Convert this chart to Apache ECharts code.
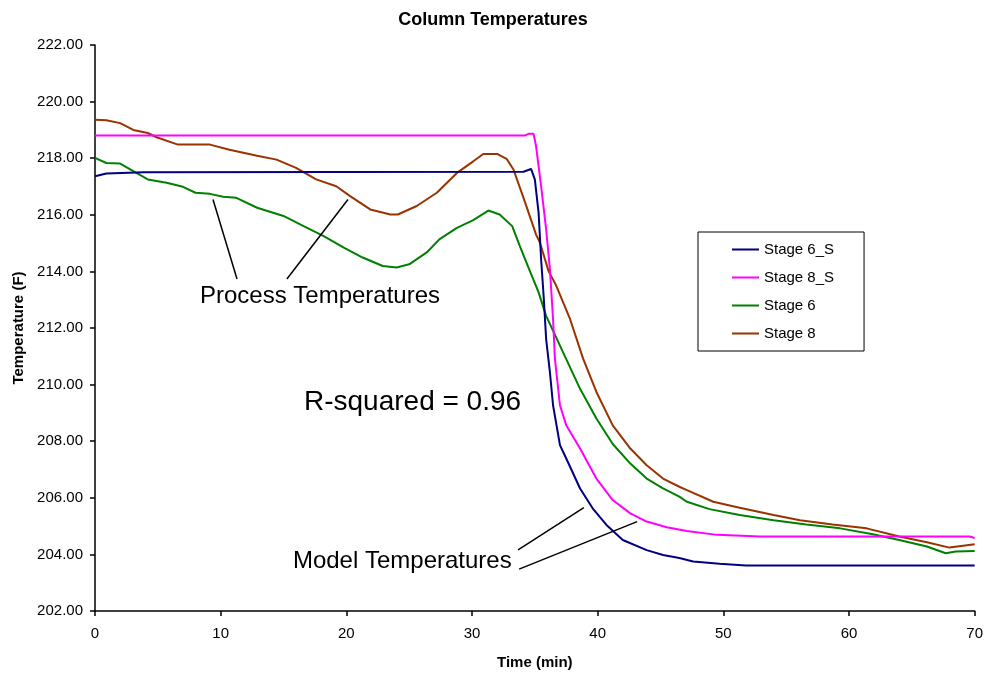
<!DOCTYPE html>
<html>
<head>
<meta charset="utf-8">
<title>Column Temperatures</title>
<script src="https://cdn.jsdelivr.net/npm/echarts@6/dist/echarts.min.js"></script>
<style>
  html, body { margin: 0; padding: 0; background: #fff; }
  #chart { width: 986px; height: 675px; }
</style>
</head>
<body>
<div id="chart"></div>
<script>
// Values, [time (min), temperature (F)]
const stage6S = [
  [0, 217.36], [0.9, 217.46], [3.9, 217.5], [34.1, 217.52], [34.7, 217.62], [35.0, 217.25],
  [35.3, 216.07], [35.5, 214.43], [35.7, 213.14], [35.9, 211.61], [36.2, 210.44], [36.45, 209.27],
  [37.0, 207.86], [37.5, 207.39], [38.6, 206.33], [39.6, 205.63], [40.7, 205.04], [42.0, 204.51],
  [43.9, 204.15], [45.2, 203.98], [46.5, 203.87], [47.6, 203.75], [49.7, 203.67], [51.8, 203.61],
  [70, 203.61]
];
const stage8S = [
  [0, 218.8], [34.2, 218.8], [34.5, 218.86], [34.9, 218.86], [35.1, 218.42], [35.5, 217.01],
  [35.9, 215.49], [36.2, 214.08], [36.45, 212.32], [36.6, 210.91], [37.0, 209.27], [37.5, 208.56],
  [38.6, 207.74], [39.9, 206.68], [41.2, 205.92], [42.6, 205.45], [43.9, 205.16], [45.5, 204.96],
  [47.1, 204.83], [49.5, 204.69], [52.9, 204.63], [69.6, 204.63], [70, 204.58]
];
const stage6 = [
  [0, 218.01], [0.9, 217.83], [2, 217.81], [3.05, 217.54], [4.2, 217.25], [5.7, 217.13],
  [7.0, 216.99], [8.0, 216.78], [9.15, 216.74], [10.2, 216.64], [11.25, 216.6], [12.9, 216.25],
  [15.0, 215.96], [16.6, 215.6], [18.2, 215.25], [19.8, 214.84], [21.3, 214.49], [22.9, 214.19],
  [24.0, 214.14], [25.0, 214.25], [26.4, 214.67], [27.4, 215.13], [28.8, 215.54], [30.1, 215.81],
  [31.3, 216.15], [32.2, 216.01], [33.2, 215.6], [33.8, 214.9], [34.6, 214.02], [35.3, 213.26],
  [35.9, 212.43], [37.25, 211.14], [38.6, 209.85], [39.9, 208.8], [41.2, 207.9], [42.6, 207.21],
  [43.9, 206.68], [45.2, 206.33], [46.5, 206.04], [47.1, 205.86], [48.9, 205.6], [51.3, 205.39],
  [54.0, 205.21], [56.6, 205.06], [59.3, 204.92], [61.9, 204.71], [64.0, 204.51], [66.2, 204.28],
  [67.7, 204.04], [68.5, 204.1], [70, 204.12]
];
const stage8 = [
  [0, 219.36], [0.9, 219.34], [2, 219.24], [3.05, 219.0], [4.2, 218.89], [4.9, 218.74],
  [6.6, 218.48], [9.15, 218.48], [10.7, 218.3], [12.9, 218.09], [14.45, 217.95], [16.0, 217.66],
  [17.6, 217.25], [19.2, 217.01], [20.3, 216.66], [21.9, 216.19], [23.5, 216.01], [24.1, 216.01],
  [25.6, 216.31], [27.2, 216.78], [28.8, 217.48], [30.1, 217.89], [30.9, 218.15], [32.0, 218.15],
  [32.75, 217.98], [33.3, 217.6], [34.1, 216.6], [35.1, 215.3], [35.4, 215.02], [36.1, 214.0],
  [36.7, 213.5], [37.8, 212.32], [38.85, 210.91], [39.9, 209.74], [41.2, 208.56], [42.6, 207.74],
  [43.9, 207.15], [45.2, 206.68], [46.5, 206.39], [47.1, 206.27], [49.2, 205.86], [51.3, 205.65],
  [54.0, 205.39], [56.1, 205.21], [58.7, 205.06], [61.4, 204.92], [64.0, 204.63], [66.2, 204.43],
  [68.0, 204.24], [70, 204.36]
];

const seriesNames = ['Stage 6_S', 'Stage 8_S', 'Stage 6', 'Stage 8'];
const seriesColors = ['#000080', '#ff00ff', '#008000', '#993300'];
const seriesData = [stage6S, stage8S, stage6, stage8];

// Annotation callouts in data coordinates
const noteTexts = [
  { text: 'Process Temperatures', at: [8.35, 213.13], size: 24 },
  { text: 'R-squared = 0.96', at: [16.63, 209.36], size: 28 },
  { text: 'Model Temperatures', at: [15.75, 203.76], size: 24 }
];
const noteLines = [
  [[9.39, 216.54], [11.30, 213.73]],
  [[20.13, 216.54], [15.27, 213.73]],
  [[33.67, 204.16], [38.9, 205.65]],
  [[33.75, 203.48], [43.14, 205.16]]
];

const FONT = 'Arial, "Liberation Sans", sans-serif';

const chart = echarts.init(document.getElementById('chart'));
chart.setOption({
  backgroundColor: '#fff',
  animation: false,
  title: {
    text: 'Column Temperatures',
    left: 'center',
    top: 6,
    textStyle: { fontFamily: FONT, fontSize: 18, fontWeight: 'bold', color: '#000' }
  },
  legend: {
    orient: 'vertical',
    left: 698,
    top: 232,
    padding: [10, 30, 10, 34],
    icon: 'rect',
    itemWidth: 27,
    itemHeight: 2,
    itemGap: 13,
    borderColor: '#000',
    borderWidth: 1,
    data: seriesNames,
    textStyle: { fontFamily: FONT, fontSize: 15, color: '#000', lineHeight: 15 }
  },
  grid: { left: 95, right: 11, top: 45, bottom: 62 },
  xAxis: {
    type: 'value',
    min: 0,
    max: 70,
    interval: 10,
    name: 'Time (min)',
    nameLocation: 'middle',
    nameGap: 44,
    nameTextStyle: { fontFamily: FONT, fontSize: 15, fontWeight: 'bold', color: '#000' },
    axisLine: { lineStyle: { color: '#000', width: 1.5 } },
    axisTick: { inside: false, length: 5, lineStyle: { color: '#000', width: 1.5 } },
    axisLabel: { fontFamily: FONT, fontSize: 15, color: '#000', margin: 15 },
    splitLine: { show: false }
  },
  yAxis: {
    type: 'value',
    min: 202,
    max: 222,
    interval: 2,
    name: 'Temperature (F)',
    nameLocation: 'middle',
    nameGap: 68,
    nameTextStyle: { fontFamily: FONT, fontSize: 15, fontWeight: 'bold', color: '#000' },
    axisLine: { show: true, lineStyle: { color: '#000', width: 1.5 } },
    axisTick: { show: true, length: 5, lineStyle: { color: '#000', width: 1.5 } },
    axisLabel: {
      fontFamily: FONT, fontSize: 15, color: '#000', margin: 12,
      formatter: (v) => v.toFixed(2)
    },
    splitLine: { show: false }
  },
  series: seriesNames.map((name, i) => ({
    name,
    type: 'line',
    data: seriesData[i],
    symbol: 'none',
    smooth: false,
    color: seriesColors[i],
    lineStyle: { color: seriesColors[i], width: 2 },
    z: 4 - i
  }))
});

// Place callout texts and leader lines using the chart's own scales
const px = (p) => chart.convertToPixel({ gridIndex: 0 }, p);
const graphics = [];
noteLines.forEach((seg) => {
  const a = px(seg[0]);
  const b = px(seg[1]);
  graphics.push({
    type: 'line',
    shape: { x1: a[0], y1: a[1], x2: b[0], y2: b[1] },
    style: { stroke: '#000', lineWidth: 1.5 },
    z: 10
  });
});
noteTexts.forEach((n) => {
  const p = px(n.at);
  graphics.push({
    type: 'text',
    x: p[0],
    y: p[1],
    style: {
      text: n.text,
      fontFamily: FONT,
      fontSize: n.size,
      fill: '#000',
      textAlign: 'left',
      textVerticalAlign: 'middle'
    },
    z: 10
  });
});
chart.setOption({ graphic: graphics });
</script>
</body>
</html>
